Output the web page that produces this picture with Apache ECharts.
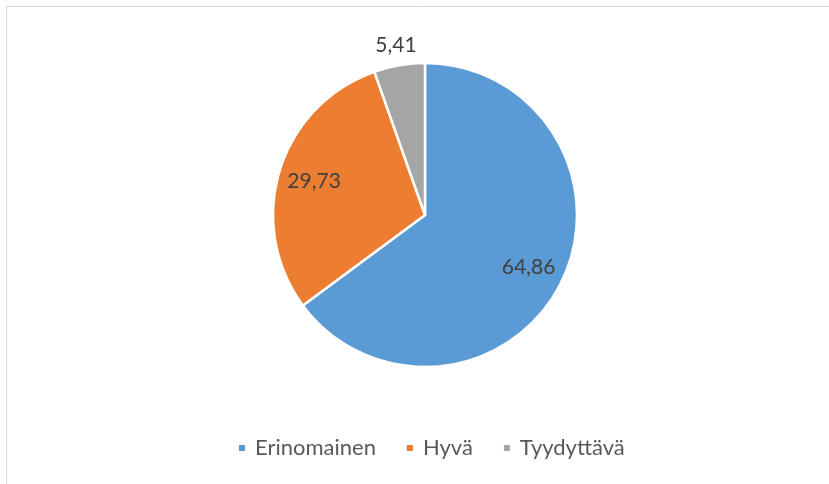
<!DOCTYPE html>
<html>
<head>
<meta charset="utf-8">
<style>
html,body{margin:0;padding:0;background:#fff;}
#chart{width:829px;height:484px;}
</style>
<script src="https://cdn.jsdelivr.net/npm/echarts@6/dist/echarts.min.js"></script>
</head>
<body>
<div id="chart"></div>
<script>
const categories = ['Erinomainen', 'Hyvä', 'Tyydyttävä'];
const values = [64.86, 29.73, 5.41];
const colors = ['#5B9BD5', '#ED7D31', '#A5A5A5'];
const outsideLabel = [false, false, true];

function fmt(v){ return v.toFixed(2).replace('.', ','); }

const chart = echarts.init(document.getElementById('chart'), null, {renderer:'canvas'});

const mainData = categories.map((n,i)=>({name:n, value:values[i], itemStyle:{color:colors[i]}}));
const innerLabelData = categories.map((n,i)=>({name:n, value:values[i], label:{show:!outsideLabel[i]}}));
const outerLabelData = categories.map((n,i)=>({name:n, value:values[i], label:{show:outsideLabel[i]}}));

const labelFont = {fontFamily:'Lato', fontSize:21, color:'#404040'};
const hidden = {color:'rgba(0,0,0,0)', borderWidth:0};

chart.setOption({
  animation:false,
  graphic:[{type:'rect', shape:{x:6.5,y:6.5,width:1200,height:1200}, style:{fill:'none', stroke:'#d9d9d9', lineWidth:1}, silent:true}],
  legend:{
    data:categories,
    top:432,
    left:232,
    icon:'rect',
    itemWidth:8,
    itemHeight:8,
    itemGap:29,
    selectedMode:false,
    textStyle:{fontFamily:'Lato', fontSize:22, color:'#595959', padding:[0,0,0,4]}
  },
  series:[
    {
      type:'pie', name:'main', center:[425,215], radius:[0,152],
      startAngle:90, clockwise:true, silent:true,
      itemStyle:{borderColor:'#fff', borderWidth:2.5},
      label:{show:false}, labelLine:{show:false},
      emphasis:{disabled:true},
      data:mainData
    },
    {
      type:'pie', name:'labelsIn', center:[425,215], radius:[74,152],
      startAngle:90, clockwise:true, silent:true,
      itemStyle:hidden,
      label:Object.assign({position:'inside', formatter:p=>fmt(p.value)}, labelFont),
      labelLine:{show:false},
      emphasis:{disabled:true},
      data:innerLabelData
    },
    {
      type:'pie', name:'labelsOut', center:[425,215], radius:[150,188],
      startAngle:90, clockwise:true, silent:true,
      itemStyle:hidden,
      label:Object.assign({position:'inside', formatter:p=>fmt(p.value)}, labelFont),
      labelLine:{show:false},
      emphasis:{disabled:true},
      data:outerLabelData
    }
  ]
});
</script>
</body>
</html>
